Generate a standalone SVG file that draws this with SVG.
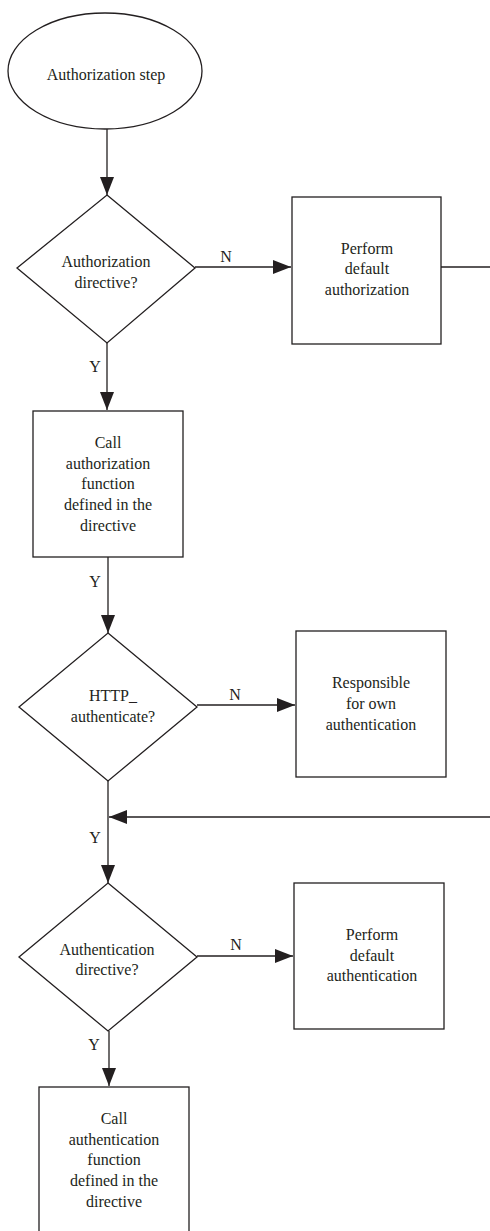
<svg xmlns="http://www.w3.org/2000/svg" width="490" height="1231" viewBox="0 0 490 1231">
<style>
.s{fill:#fff;stroke:#231f20;stroke-width:1.3}
.c{fill:none;stroke:#231f20;stroke-width:1.3}
.t{font-family:'Liberation Serif','DejaVu Serif',serif;font-size:16px;fill:#231f20;text-anchor:middle}
</style>
<defs>
<marker id="ah" viewBox="0 0 18 14" refX="18" refY="7" markerWidth="18" markerHeight="14" markerUnits="userSpaceOnUse" orient="auto">
<path d="M0,0 L18,7 L0,14 Z" fill="#231f20"/>
</marker>
</defs>
<rect width="490" height="1231" fill="#fff"/>
<g id="connectors">
<line class="c" x1="107" y1="129" x2="107" y2="195" marker-end="url(#ah)"/>
<line class="c" x1="195" y1="267" x2="291" y2="267" marker-end="url(#ah)"/>
<line class="c" x1="441" y1="267" x2="490" y2="267"/>
<line class="c" x1="107" y1="343" x2="107" y2="410" marker-end="url(#ah)"/>
<line class="c" x1="108" y1="557" x2="108" y2="633" marker-end="url(#ah)"/>
<line class="c" x1="197" y1="705" x2="295" y2="705" marker-end="url(#ah)"/>
<line class="c" x1="108" y1="781" x2="108" y2="883" marker-end="url(#ah)"/>
<line class="c" x1="490" y1="817" x2="109" y2="817" marker-end="url(#ah)"/>
<line class="c" x1="197" y1="956" x2="293" y2="956" marker-end="url(#ah)"/>
<line class="c" x1="109" y1="1031" x2="109" y2="1086" marker-end="url(#ah)"/>
<g class="t" font-family="Liberation Serif, DejaVu Serif, serif">
<text x="226" y="262">N</text>
<text x="95" y="372">Y</text>
<text x="95" y="587">Y</text>
<text x="235" y="700">N</text>
<text x="95" y="843">Y</text>
<text x="236" y="950">N</text>
<text x="94" y="1050">Y</text>
</g>
</g>
<g id="start">
<ellipse class="s" cx="105" cy="71" rx="97" ry="58"/>
<text class="t" x="106" y="80">Authorization step</text>
</g>
<g id="d1">
<polygon class="s" points="107,195 195,268 107,343 17,268"/>
<text class="t" x="106" y="267">Authorization</text>
<text class="t" x="106" y="288">directive?</text>
</g>
<g id="b1">
<rect class="s" x="292" y="197" width="149" height="147"/>
<text class="t" x="367" y="254">Perform</text>
<text class="t" x="367" y="274">default</text>
<text class="t" x="367" y="295">authorization</text>
</g>
<g id="b2">
<rect class="s" x="33" y="411" width="150" height="146"/>
<text class="t" x="108" y="448">Call</text>
<text class="t" x="108" y="469">authorization</text>
<text class="t" x="108" y="489">function</text>
<text class="t" x="108" y="510">defined in the</text>
<text class="t" x="108" y="531">directive</text>
</g>
<g id="d2">
<polygon class="s" points="108,633 197,707 108,781 19,707"/>
<text class="t" x="113" y="701">HTTP_</text>
<text class="t" x="113" y="722">authenticate?</text>
</g>
<g id="b3">
<rect class="s" x="296" y="631" width="150" height="146"/>
<text class="t" x="371" y="688">Responsible</text>
<text class="t" x="371" y="709">for own</text>
<text class="t" x="371" y="730">authentication</text>
</g>
<g id="d3">
<polygon class="s" points="108,883 197,957 108,1031 19,957"/>
<text class="t" x="107" y="955">Authentication</text>
<text class="t" x="107" y="975">directive?</text>
</g>
<g id="b4">
<rect class="s" x="294" y="883" width="150" height="146"/>
<text class="t" x="372" y="940">Perform</text>
<text class="t" x="372" y="961">default</text>
<text class="t" x="372" y="981">authentication</text>
</g>
<g id="b5">
<rect class="s" x="39" y="1087" width="150" height="160"/>
<text class="t" x="114" y="1124">Call</text>
<text class="t" x="114" y="1145">authentication</text>
<text class="t" x="114" y="1165">function</text>
<text class="t" x="114" y="1186">defined in the</text>
<text class="t" x="114" y="1207">directive</text>
</g>
</svg>
